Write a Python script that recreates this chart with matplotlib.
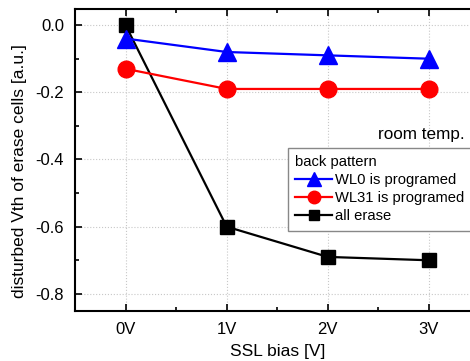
import matplotlib
matplotlib.use("Agg")
import matplotlib.pyplot as plt
from matplotlib.ticker import MultipleLocator

plt.rcParams['font.family'] = ['Liberation Sans', 'DejaVu Sans']
plt.rcParams['axes.unicode_minus'] = False

categories = ["0V", "1V", "2V", "3V"]
wl0 = [-0.04, -0.08, -0.09, -0.10]
wl31 = [-0.13, -0.19, -0.19, -0.19]
all_erase = [0.0, -0.60, -0.69, -0.70]

fig = plt.figure(figsize=(4.70, 3.61), dpi=100)
ax = fig.add_axes([75/470, 1-311/361, (479.5-75)/470, (311-9)/361])

x = list(range(len(categories)))
ax.plot(x, all_erase, color='black', marker='s', markersize=9.5, lw=1.6, label='all erase', zorder=3)
ax.plot(x, wl0, color='blue', marker='^', markersize=13, lw=1.6, label='WL0 is programed', zorder=4)
ax.plot(x, wl31, color='red', marker='o', markersize=12, lw=1.6, label='WL31 is programed', zorder=4)

ax.set_xlim(-0.5, 3.5)
ax.set_ylim(-0.851, 0.048)
ax.set_xticks(x)
ax.set_xticklabels(categories)
ax.xaxis.set_minor_locator(MultipleLocator(0.5))
ax.yaxis.set_major_locator(MultipleLocator(0.2))
ax.yaxis.set_minor_locator(MultipleLocator(0.1))
ax.tick_params(which='both', direction='in', top=True, right=False, labelsize=12, width=1.2)
ax.tick_params(which='major', length=5, pad=8)
ax.tick_params(which='minor', length=3)
ax.grid(True, which='major', linestyle=':', color='#c8c8c8', lw=0.8)
for s in ax.spines.values():
    s.set_linewidth(1.5)
ax.spines['right'].set_visible(False)

ax.set_xlabel('SSL bias [V]', fontsize=12.5, labelpad=5)
ax.set_ylabel('disturbed Vth of erase cells [a.u.]', fontsize=12.5)
ax.yaxis.set_label_coords(-0.118, 0.4636)

ax.text(465/470, 1-135/361, 'room temp.', transform=fig.transFigure, ha='right', va='center', fontsize=12.3)

h, l = ax.get_legend_handles_labels()
order = [1, 2, 0]
leg = ax.legend([h[i] for i in order], [l[i] for i in order], title='back pattern',
                loc='upper left', mode='expand',
                bbox_to_anchor=(288/470, 1-231/361, 200/470, 83/361), bbox_transform=fig.transFigure,
                fontsize=10.6, title_fontsize=10.6, frameon=True, fancybox=False, edgecolor='#888888',
                framealpha=1, handlelength=2.5, handletextpad=0.2, borderpad=0.5, labelspacing=0.27,
                markerscale=0.75, borderaxespad=0)
leg._legend_box.align = 'left'
leg.get_frame().set_linewidth(1.0)

fig.savefig('out.png', dpi=100)
